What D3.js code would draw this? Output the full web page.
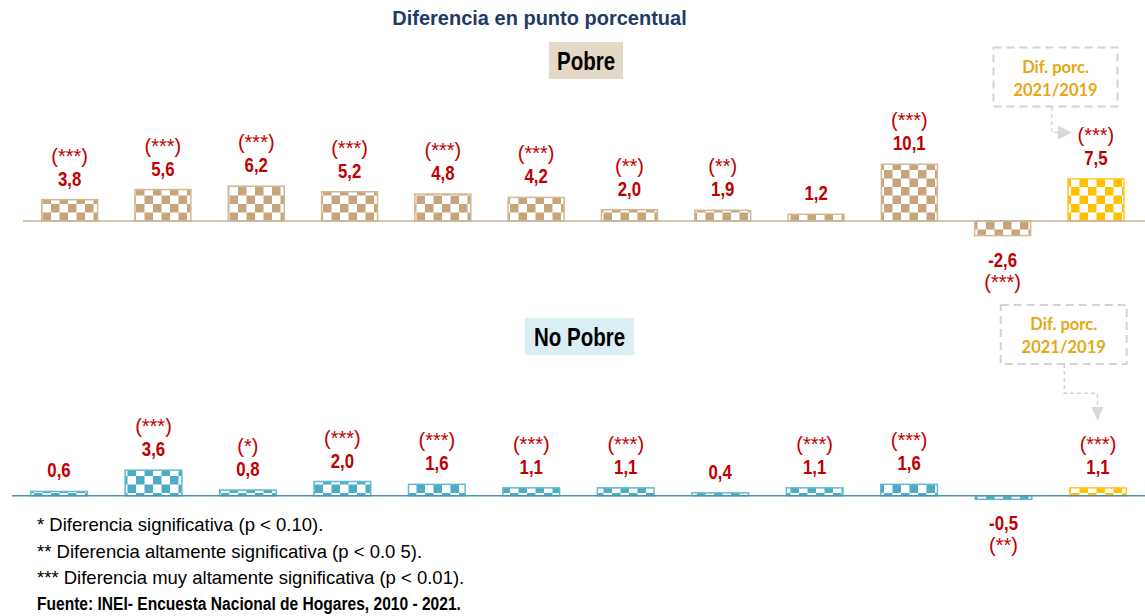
<!DOCTYPE html>
<html><head><meta charset="utf-8">
<script src="https://cdn.jsdelivr.net/npm/d3@7"></script>
<style>body{margin:0;background:#fff;} svg{display:block;}</style>
</head><body><svg id="c" width="1145" height="616"></svg>
<script>
const categories = ["2011/2010","2012/2011","2013/2012","2014/2013","2015/2014","2016/2015","2017/2016","2018/2017","2019/2018","2020/2019","2021/2020","2021/2019"];
const pobreValues = [3.8, 5.6, 6.2, 5.2, 4.8, 4.2, 2.0, 1.9, 1.2, 10.1, -2.6, 7.5];
const pobreSignif = ["***","***","***","***","***","***","**","**","","***","***","***"];
const noPobreValues = [0.6, 3.6, 0.8, 2.0, 1.6, 1.1, 1.1, 0.4, 1.1, 1.6, -0.5, 1.1];
const noPobreSignif = ["","***","*","***","***","***","***","","***","***","**","***"];
const highlightCategory = "2021/2019";
const titleText = "Diferencia en punto porcentual";
const panelNames = ["Pobre", "No Pobre"];
const boxLines = ["Dif. porc.", "2021/2019"];
const footnotes = [
  "* Diferencia significativa (p < 0.10).",
  "** Diferencia altamente significativa (p < 0.0 5).",
  "*** Diferencia muy altamente significativa (p < 0.01)."
];
const sourceText = "Fuente: INEI- Encuesta Nacional de Hogares, 2010 - 2021.";

const ARIAL = "'Liberation Sans',Arial,sans-serif";
const CAL = "Lato,'Open Sans',sans-serif";
const RED = "#C00000";
const NARROW_SCALE = 0.82;

const svg = d3.select("#c");
const defs = svg.append("defs");
function checker(id, color){
  const p = defs.append("pattern").attr("id", id).attr("patternUnits","userSpaceOnUse")
    .attr("width",17).attr("height",17);
  p.append("rect").attr("width",17).attr("height",17).attr("fill","#fff");
  p.append("rect").attr("width",8.5).attr("height",8.5).attr("fill",color);
  p.append("rect").attr("x",8.5).attr("y",8.5).attr("width",8.5).attr("height",8.5).attr("fill",color);
}
checker("pTan", "#C6A57B");
checker("pTeal", "#4BACC6");
checker("pGold", "#FFC000");

svg.append("text").attr("x", 539.5).attr("y", 25).attr("text-anchor","middle")
  .attr("font-family", ARIAL).attr("font-weight","bold").attr("font-size", 20)
  .attr("fill", "#1F3A68").text(titleText);

function narrow(sel){
  return sel.attr("font-family", ARIAL).attr("font-weight","bold");
}

function panel(cfg){
  const x = d3.scaleBand().domain(categories).range(cfg.xRange).paddingInner(0.4).paddingOuter(0.2);
  const y = d3.scaleLinear().domain(cfg.yDomain).range(cfg.yRange);
  const data = categories.map((c,i)=>({c, v: cfg.values[i], s: cfg.signif[i]}));
  const g = svg.append("g");
  // name box
  const nb = g.append("g");
  nb.append("rect").attr("x", cfg.nameBox[0]).attr("y", cfg.nameBox[1]).attr("width", cfg.nameBox[2]).attr("height", cfg.nameBox[3]).attr("fill", cfg.nameFill);
  narrow(nb.append("text"))
    .attr("transform", `translate(${cfg.nameBox[0]+cfg.nameBox[2]/2},${cfg.nameBox[1]+cfg.nameBox[3]/2+9}) scale(${NARROW_SCALE},1)`)
    .attr("text-anchor","middle").attr("font-size",25)
    .attr("fill","#000").text(cfg.name);
  // bars
  g.selectAll("rect.bar").data(data).join("rect").attr("class","bar")
    .attr("x", d=>x(d.c)).attr("width", x.bandwidth())
    .attr("y", d=>y(Math.max(0,d.v))).attr("height", d=>Math.abs(y(d.v)-y(0)))
    .attr("fill", d=> d.c===highlightCategory ? "url(#pGold)" : `url(#${cfg.pattern})`)
    .attr("stroke", d=> d.c===highlightCategory ? "#FFC82E" : cfg.stroke).attr("stroke-width",1.5);
  // axis line
  g.append("line").attr("x1", cfg.axisX[0]).attr("x2", cfg.axisX[1]).attr("y1", y(0)).attr("y2", y(0))
    .attr("stroke", cfg.axisColor).attr("stroke-width",1.5);
  // labels
  const fmt = v => d3.format(".1f")(v).replace(".", ",").replace("−","-");
  const valY = d => d.v>=0 ? y(d.v)-14 : y(d.v)+31;
  narrow(g.selectAll("text.val").data(data).join("text").attr("class","val"))
    .attr("transform", d=>`translate(${x(d.c)+x.bandwidth()/2},${valY(d)}) scale(${NARROW_SCALE},1)`)
    .attr("text-anchor","middle").attr("font-size",20.5)
    .attr("fill", RED).text(d=>fmt(d.v));
  g.selectAll("text.sig").data(data.filter(d=>d.s)).join("text").attr("class","sig")
    .attr("x", d=>x(d.c)+x.bandwidth()/2)
    .attr("y", d=> d.v>=0 ? valY(d)-23 : valY(d)+22)
    .attr("text-anchor","middle").attr("font-family", ARIAL).attr("font-size",20)
    .attr("fill", RED).text(d=>`(${d.s})`);
  // dif box
  const b = cfg.difBox;
  g.append("rect").attr("x", b[0]).attr("y", b[1]).attr("width", b[2]).attr("height", b[3])
    .attr("fill","none").attr("stroke","#D3D3D3").attr("stroke-width",2).attr("stroke-dasharray","8,5");
  boxLines.forEach((t,i)=>{
    g.append("text").attr("x", b[0]+b[2]/2).attr("y", b[1]+25+i*23).attr("text-anchor","middle")
      .attr("font-family", CAL).attr("font-weight","bold").attr("font-size",16.5).attr("fill","#E5A712").text(t);
  });
  g.append("path").attr("d", cfg.arrowPath).attr("fill","none").attr("stroke","#D3D3D3")
    .attr("stroke-width",1.5).attr("stroke-dasharray","4,3");
  g.append("path").attr("d", cfg.arrowHead).attr("fill","#D9D9D9");
}

panel({
  name: panelNames[0], nameBox:[549, 42, 74, 37], nameFill:"#E4D8C7",
  values: pobreValues, signif: pobreSignif,
  xRange:[23, 1142.6], yDomain:[-5,12], yRange:[221+5*5.62, 221-12*5.62],
  pattern:"pTan", stroke:"#D2B995", axisColor:"#C9B394", axisX:[23,1145],
  difBox:[993.5, 47.5, 124, 59],
  arrowPath:"M1051.7,107 V132.5 H1058", arrowHead:"M1058,125.5 L1072,132.5 L1058,139.5 Z"
});
panel({
  name: panelNames[1], nameBox:[525, 318, 109, 37], nameFill:"#DBEEF4",
  values: noPobreValues, signif: noPobreSignif,
  xRange:[11.8, 1145.2], yDomain:[-2,5], yRange:[495.7+2*7.1, 495.7-5*7.1],
  pattern:"pTeal", stroke:"#64B8CF", axisColor:"#4E93A8", axisX:[12,1145],
  difBox:[1000.7, 305, 126, 59],
  arrowPath:"M1064.3,364 V393.3 H1097.5 V407", arrowHead:"M1091.5,407 L1103.5,407 L1097.5,421 Z"
});

footnotes.forEach((t,i)=>{
  svg.append("text").attr("x", 37).attr("y", 531 + i*26.5).attr("font-family", ARIAL).attr("font-size",18.5)
    .attr("fill","#000").text(t);
});
narrow(svg.append("text"))
  .attr("transform", `translate(37,610) scale(${NARROW_SCALE},1)`)
  .attr("font-size",19).attr("fill","#000").text(sourceText);
</script></body></html>
